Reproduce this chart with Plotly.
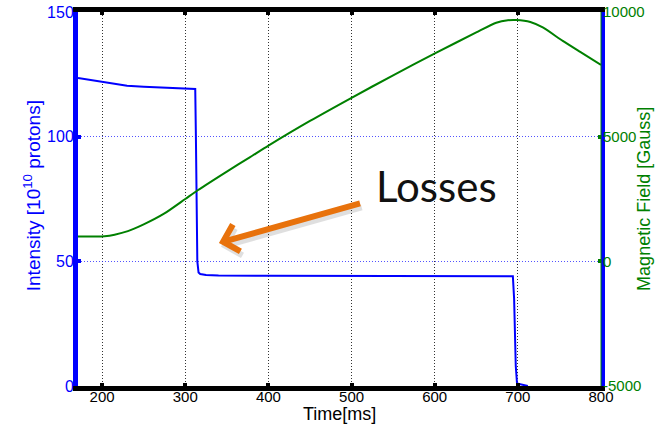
import plotly.graph_objects as go

# Beam intensity during the cycle
time_int = [171, 185, 200, 215, 230, 250, 270, 290, 305, 312, 312.8, 313.5, 314.5, 316, 318,
            325, 340, 400, 500, 600, 680, 694, 695.5, 696.5, 697.5, 699, 712]
intensity = [123.5, 122.8, 122.0, 121.0, 120.4, 120.0, 119.7, 119.5, 119.3, 119.1, 100, 70, 50,
             45.5, 44.9, 44.5, 44.3, 44.2, 44.1, 44.0, 44.0, 44.0, 35, 20, 8, 1, 0]

# Magnetic field ramp
time_b = [171, 190, 203, 215, 231, 250, 275, 300, 315, 350, 378, 400, 450, 500, 550, 602,
          650, 674, 688, 698, 715, 730, 754, 775, 800]
field = [1000, 1000, 1010, 1070, 1210, 1480, 1920, 2500, 2850, 3600, 4180, 4640, 5630, 6560,
         7460, 8370, 9180, 9570, 9670, 9680, 9600, 9380, 8840, 8400, 7880]

x_ticks = [200, 300, 400, 500, 600, 700, 800]
y_ticks = [0, 50, 100, 150]
y2_ticks = [-5000, 0, 5000, 10000]
y2_labels = ["-5000", "0", "5000", "10000"]

BLUE = "#0000FF"
GREEN = "#008000"
ORANGE = "#E8720C"
FONT = "Liberation Sans"

fig = go.Figure()
fig.add_trace(go.Scatter(x=time_int, y=intensity, mode="lines",
                         line=dict(color=BLUE, width=2), yaxis="y", showlegend=False))
fig.add_trace(go.Scatter(x=time_b, y=field, mode="lines",
                         line=dict(color=GREEN, width=2, shape="spline", smoothing=0.6),
                         yaxis="y2", showlegend=False))

fig.update_layout(
    width=664, height=429,
    margin=dict(l=78, r=63, t=12, b=43),
    plot_bgcolor="white", paper_bgcolor="white",
    font=dict(family=FONT, size=15, color="black"),
    xaxis=dict(
        range=[171, 800], tickvals=x_ticks, ticks="inside", ticklen=3, tickwidth=4,
        tickcolor="black", showline=True, linecolor="black", linewidth=5, mirror="ticks",
        showgrid=True, gridcolor="#333333", gridwidth=1, griddash="1px,2px",
        zeroline=False, tickfont=dict(size=15, color="black"), automargin=False,
        ticklabelstandoff=-7,
    ),
    yaxis=dict(
        range=[0, 150], tickvals=y_ticks, ticks="inside", ticklen=3, tickwidth=4,
        tickcolor=BLUE, showline=True, linecolor=BLUE, linewidth=5,
        showgrid=True, gridcolor="rgba(40,40,255,0.8)", gridwidth=1, griddash="1px,2px",
        zeroline=False, tickfont=dict(size=16, color=BLUE), automargin=False,
        ticklabelstandoff=-4,
    ),
    yaxis2=dict(
        range=[-5000, 10000], tickvals=y2_ticks, ticktext=y2_labels, overlaying="y",
        side="right", ticks="inside", ticklen=3, tickwidth=4, tickcolor=GREEN,
        showline=True, linecolor=BLUE, linewidth=4, showgrid=False, zeroline=False,
        tickfont=dict(size=15, color=GREEN), automargin=False, ticklabelstandoff=-5,
    ),
    shapes=[dict(type="line", xref="paper", yref="paper", x0=1, x1=1, y0=0, y1=1,
                 line=dict(color=GREEN, width=1), layer="above")],
)

# Axis titles
fig.add_annotation(x=0.5, y=-0.076, xref="paper", yref="paper", text="Time[ms]",
                   showarrow=False, xanchor="center", yanchor="middle",
                   font=dict(family=FONT, size=18, color="black"))
fig.add_annotation(x=-0.088, y=0.51, xref="paper", yref="paper",
                   text="Intensity [10<sup>10</sup> protons]", textangle=-90,
                   showarrow=False, xanchor="center", yanchor="middle",
                   font=dict(family=FONT, size=19, color=BLUE))
fig.add_annotation(x=1.082, y=0.5, xref="paper", yref="paper",
                   text="Magnetic Field [Gauss]", textangle=-90,
                   showarrow=False, xanchor="center", yanchor="middle",
                   font=dict(family=FONT, size=18, color=GREEN))

# Shadow beneath the arrow
fig.add_annotation(x=343, y=55.8, ax=514, ay=71.8, xref="x", yref="y", axref="x", ayref="y",
                   text="", showarrow=True, arrowhead=4, arrowsize=0.9, arrowwidth=6,
                   arrowcolor="rgba(0,0,0,0.12)")
# Arrow pointing at the loss
fig.add_annotation(x=340.5, y=57.4, ax=512, ay=73.4, xref="x", yref="y", axref="x", ayref="y",
                   text="", showarrow=True, arrowhead=4, arrowsize=0.9, arrowwidth=6,
                   arrowcolor=ORANGE)
fig.add_annotation(x=602, y=80.2, xref="x", yref="y", text="Losses", showarrow=False,
                   font=dict(family="Lato", size=42, color="#111111"),
                   xanchor="center", yanchor="middle")

fig.write_html("out.html")
